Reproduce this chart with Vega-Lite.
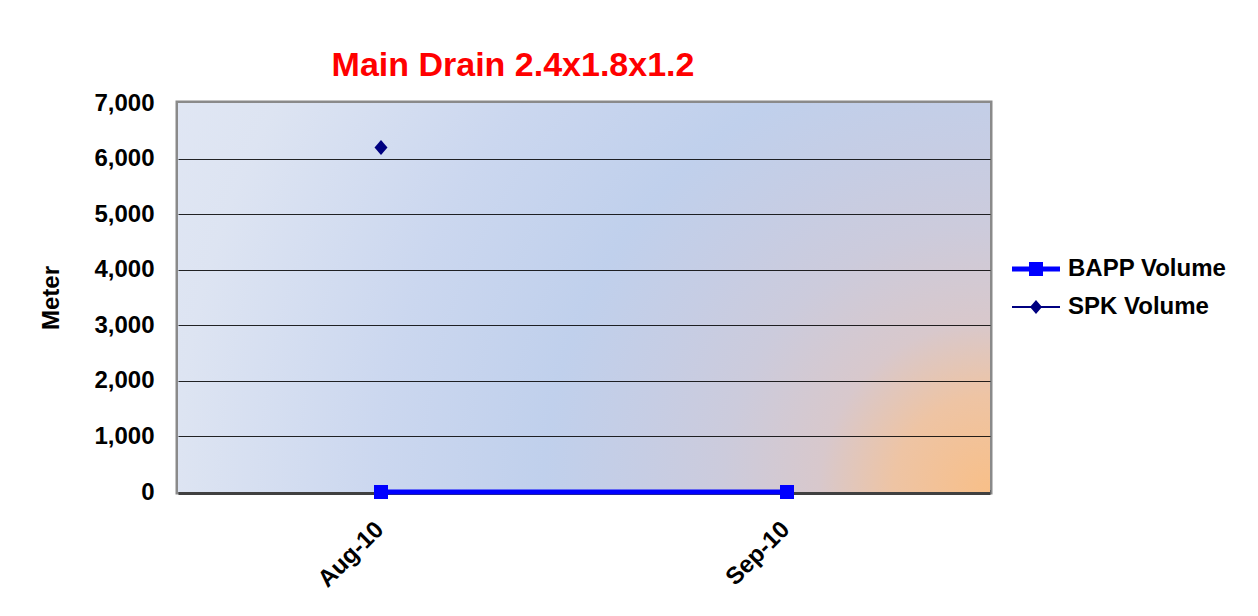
{
  "$schema": "https://vega.github.io/schema/vega-lite/v6.json",
  "autosize": {"type": "none"},
  "padding": {"left": 178, "top": 103, "right": 268, "bottom": 124},
  "width": 812,
  "height": 389,
  "background": "#ffffff",
  "title": {
    "text": "Main Drain 2.4x1.8x1.2",
    "anchor": "middle",
    "dx": -71,
    "offset": 8,
    "color": "#ff0000",
    "font": "Liberation Sans",
    "fontWeight": "bold",
    "fontSize": 34
  },
  "config": {
    "view": {"stroke": "#8a8a8a", "strokeWidth": 5},
    "axis": {
      "labelFont": "Liberation Sans",
      "labelFontWeight": "bold",
      "labelFontSize": 24,
      "labelColor": "#000000",
      "titleFont": "Liberation Sans",
      "titleFontWeight": "bold",
      "titleFontSize": 24,
      "titleColor": "#000000",
      "ticks": false
    },
    "legend": {
      "labelFont": "Liberation Sans",
      "labelFontWeight": "bold",
      "labelFontSize": 24,
      "labelColor": "#000000"
    }
  },
  "datasets": {
    "volumes": [
      {"month": "Aug-10", "series": "BAPP Volume", "value": 0},
      {"month": "Sep-10", "series": "BAPP Volume", "value": 0},
      {"month": "Aug-10", "series": "SPK Volume", "value": 6200},
      {"month": "Sep-10", "series": "SPK Volume", "value": null}
    ]
  },
  "data": {"name": "volumes"},
  "encoding": {
    "x": {
      "field": "month",
      "type": "ordinal",
      "sort": ["Aug-10", "Sep-10"],
      "scale": {"type": "point", "padding": 0.5},
      "axis": {
        "title": null,
        "labelAngle": -45,
        "labelPadding": 25,
        "labelOffset": -10,
        "domainColor": "#404040",
        "domainWidth": 5,
        "grid": false,
        "zindex": 0
      }
    },
    "y": {
      "field": "value",
      "type": "quantitative",
      "scale": {"domain": [0, 7000], "nice": false},
      "axis": {
        "title": "Meter",
        "values": [0, 1000, 2000, 3000, 4000, 5000, 6000, 7000],
        "format": ",.0f",
        "labelPadding": 24,
        "titlePadding": 30,
        "domain": false,
        "grid": true,
        "gridColor": "#000000",
        "gridWidth": 1,
        "gridOpacity": {"condition": {"test": "datum.value === 0 || datum.value === 7000", "value": 0}, "value": 0.85},
        "zindex": 1
      }
    }
  },
  "layer": [
    {
      "data": {"values": [{"panel": "plot"}]},
      "mark": {
        "type": "rect",
        "color": {
          "gradient": "radial",
          "x1": 1, "y1": 0.74, "r1": 0,
          "x2": 1, "y2": 0.74, "r2": 1.15,
          "stops": [
            {"offset": 0, "color": "#f8bf88"},
            {"offset": 0.104, "color": "#eec4a4"},
            {"offset": 0.183, "color": "#d8c8cc"},
            {"offset": 0.287, "color": "#cccbdc"},
            {"offset": 0.374, "color": "#c6cde4"},
            {"offset": 0.478, "color": "#c0d0ec"},
            {"offset": 0.652, "color": "#cbd7ef"},
            {"offset": 0.87, "color": "#dde4f2"},
            {"offset": 1, "color": "#e1e7f4"}
          ]
        }
      },
      "encoding": {"x": null, "y": null}
    },
    {
      "transform": [{"filter": "datum.series === 'BAPP Volume'"}],
      "mark": {"type": "line", "color": "#0000ff", "strokeWidth": 5}
    },
    {
      "transform": [{"filter": "datum.series === 'BAPP Volume'"}],
      "mark": {"type": "point", "shape": "square", "filled": true, "size": 196, "color": "#0000ff", "opacity": 1}
    },
    {
      "transform": [{"filter": "datum.series === 'SPK Volume' && datum.value != null"}],
      "mark": {"type": "point", "shape": "M0,-1.25L1.08,0L0,1.25L-1.08,0Z", "filled": true, "size": 144, "color": "#000080", "opacity": 1}
    },
    {
      "transform": [{"filter": "false"}],
      "mark": {"type": "point", "filled": true, "opacity": 1},
      "encoding": {
        "x": null,
        "y": null,
        "color": {
          "field": "series",
          "type": "nominal",
          "scale": {"domain": ["BAPP Volume", "SPK Volume"], "range": ["#0000ff", "#000080"]},
          "legend": {
            "title": null,
            "orient": "none",
            "legendX": 846,
            "legendY": 154,
            "symbolSize": 400,
            "symbolOpacity": 1,
            "symbolStrokeWidth": 0,
            "labelOffset": 20,
            "rowPadding": 14,
            "padding": 0
          }
        },
        "shape": {
          "field": "series",
          "type": "nominal",
          "scale": {
            "domain": ["BAPP Volume", "SPK Volume"],
            "range": [
              "M-2.4,-0.25H2.4V0.25H-2.4Z M-0.7,-0.7H0.7V0.7H-0.7Z",
              "M-2.4,-0.1H2.4V0.1H-2.4Z M0,-0.7L0.6,0L0,0.7L-0.6,0Z"
            ]
          }
        }
      }
    }
  ]
}
